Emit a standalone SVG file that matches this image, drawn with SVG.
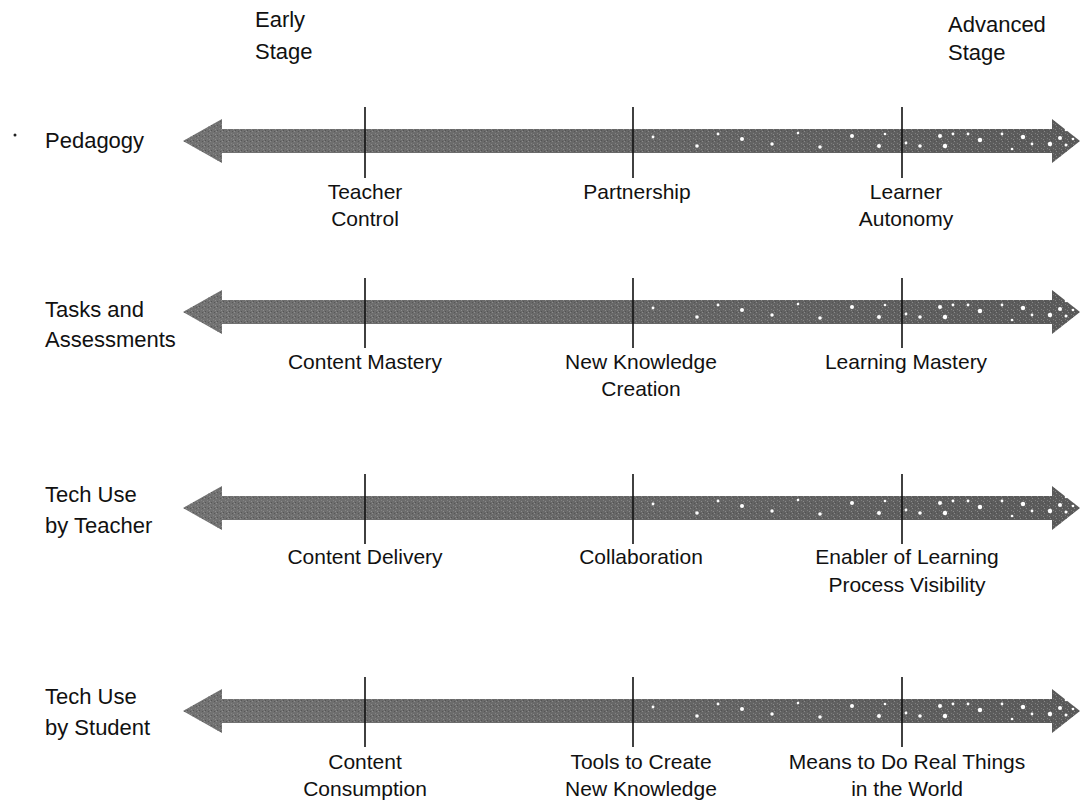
<svg xmlns="http://www.w3.org/2000/svg" width="1081" height="802" viewBox="0 0 1081 802">
  <style>
    text { font-family: "Liberation Sans", Arial, Helvetica, sans-serif; font-size: 21px; fill: #111; }
    .c { text-anchor: middle; }
    .big { font-size: 22px; }
    .tick { stroke: #111; stroke-width: 1.6; }
    .dot { fill: #fff; }
  </style>
  <defs>
    <linearGradient id="shade" x1="183" y1="0" x2="1080" y2="0" gradientUnits="userSpaceOnUse">
      <stop offset="0" stop-color="#727272"/>
      <stop offset="0.5" stop-color="#676767"/>
      <stop offset="1" stop-color="#5a5a5a"/>
    </linearGradient>
    <pattern id="grain" width="6" height="5" patternUnits="userSpaceOnUse">
      <rect x="0" y="0" width="1" height="1" fill="#9a9a9a"/>
      <rect x="3" y="2" width="1" height="1" fill="#8c8c8c"/>
      <rect x="1" y="4" width="1" height="1" fill="#4a4a4a"/>
      <rect x="4" y="0" width="1" height="1" fill="#4e4e4e"/>
      <rect x="5" y="3" width="1" height="1" fill="#999"/>
    </pattern>
    <path id="arrowShape" d="M183,0 L222,-22 L222,-12 L1052,-12 L1052,-22 L1080,0 L1052,22 L1052,12 L222,12 L222,22 Z"/>
    <g id="dots">
      <circle class="dot" cx="653" cy="-4" r="1.4"/>
      <circle class="dot" cx="697" cy="5" r="1.8"/>
      <circle class="dot" cx="718" cy="-7" r="1.4"/>
      <circle class="dot" cx="742" cy="-2" r="2"/>
      <circle class="dot" cx="772" cy="3" r="1.7"/>
      <circle class="dot" cx="798" cy="-8" r="1.3"/>
      <circle class="dot" cx="820" cy="6" r="1.8"/>
      <circle class="dot" cx="852" cy="-5" r="2"/>
      <circle class="dot" cx="879" cy="5" r="2"/>
      <circle class="dot" cx="885" cy="-7" r="1.3"/>
      <circle class="dot" cx="906" cy="2" r="1.4"/>
      <circle class="dot" cx="920" cy="5" r="1.8"/>
      <circle class="dot" cx="940" cy="-5" r="2"/>
      <circle class="dot" cx="945" cy="5" r="2.2"/>
      <circle class="dot" cx="953" cy="-7" r="1.4"/>
      <circle class="dot" cx="968" cy="-7" r="1.4"/>
      <circle class="dot" cx="980" cy="-1" r="2.2"/>
      <circle class="dot" cx="1002" cy="-7" r="1.4"/>
      <circle class="dot" cx="1012" cy="8" r="1.3"/>
      <circle class="dot" cx="1023" cy="-4" r="2.2"/>
      <circle class="dot" cx="1032" cy="3" r="1.4"/>
      <circle class="dot" cx="1050" cy="3" r="2.2"/>
      <circle class="dot" cx="1060" cy="-3" r="2"/>
      <circle class="dot" cx="1066" cy="-11" r="1.3"/>
      <circle class="dot" cx="1066" cy="4" r="1.5"/>
      <circle class="dot" cx="1073" cy="-2" r="1.3"/>
    </g>
    <g id="arrow">
      <use href="#arrowShape" fill="url(#shade)"/>
      <use href="#arrowShape" fill="url(#grain)" opacity="0.7"/>
      <use href="#dots"/>
    </g>
  </defs>

  <rect width="1081" height="802" fill="#fff"/>

  <g id="stage-headers">
    <text class="big" x="255" y="27">Early</text>
    <text class="big" x="255" y="59">Stage</text>
    <text class="big" x="948" y="32">Advanced</text>
    <text class="big" x="948" y="60">Stage</text>
  </g>

  <circle cx="15" cy="135" r="1.5" fill="#222"/>

  <g id="connectors">
    <use href="#arrow" transform="translate(0,141)"/>
    <use href="#arrow" transform="translate(0,312)"/>
    <use href="#arrow" transform="translate(0,508)"/>
    <use href="#arrow" transform="translate(0,711)"/>
    <g class="ticks">
      <line class="tick" x1="365" y1="107" x2="365" y2="178"/>
      <line class="tick" x1="633" y1="107" x2="633" y2="178"/>
      <line class="tick" x1="902" y1="107" x2="902" y2="178"/>
      <line class="tick" x1="365" y1="278" x2="365" y2="348"/>
      <line class="tick" x1="633" y1="278" x2="633" y2="348"/>
      <line class="tick" x1="902" y1="278" x2="902" y2="348"/>
      <line class="tick" x1="365" y1="474" x2="365" y2="544"/>
      <line class="tick" x1="633" y1="474" x2="633" y2="544"/>
      <line class="tick" x1="902" y1="474" x2="902" y2="544"/>
      <line class="tick" x1="365" y1="677" x2="365" y2="747"/>
      <line class="tick" x1="633" y1="677" x2="633" y2="747"/>
      <line class="tick" x1="902" y1="677" x2="902" y2="747"/>
    </g>
  </g>

  <g id="row-pedagogy">
    <text class="big" x="45" y="148">Pedagogy</text>
    <text class="c" x="365" y="199">Teacher</text>
    <text class="c" x="365" y="226">Control</text>
    <text class="c" x="637" y="199">Partnership</text>
    <text class="c" x="906" y="199">Learner</text>
    <text class="c" x="906" y="226">Autonomy</text>
  </g>

  <g id="row-tasks">
    <text class="big" x="45" y="317">Tasks and</text>
    <text class="big" x="45" y="347">Assessments</text>
    <text class="c" x="365" y="369">Content Mastery</text>
    <text class="c" x="641" y="369">New Knowledge</text>
    <text class="c" x="641" y="396">Creation</text>
    <text class="c" x="906" y="369">Learning Mastery</text>
  </g>

  <g id="row-tech-teacher">
    <text class="big" x="45" y="502">Tech Use</text>
    <text class="big" x="45" y="533">by Teacher</text>
    <text class="c" x="365" y="564">Content Delivery</text>
    <text class="c" x="641" y="564">Collaboration</text>
    <text class="c" x="907" y="564">Enabler of Learning</text>
    <text class="c" x="907" y="592">Process Visibility</text>
  </g>

  <g id="row-tech-student">
    <text class="big" x="45" y="704">Tech Use</text>
    <text class="big" x="45" y="735">by Student</text>
    <text class="c" x="365" y="769">Content</text>
    <text class="c" x="365" y="796">Consumption</text>
    <text class="c" x="641" y="769">Tools to Create</text>
    <text class="c" x="641" y="796">New Knowledge</text>
    <text class="c" x="907" y="769">Means to Do Real Things</text>
    <text class="c" x="907" y="796">in the World</text>
  </g>
</svg>
